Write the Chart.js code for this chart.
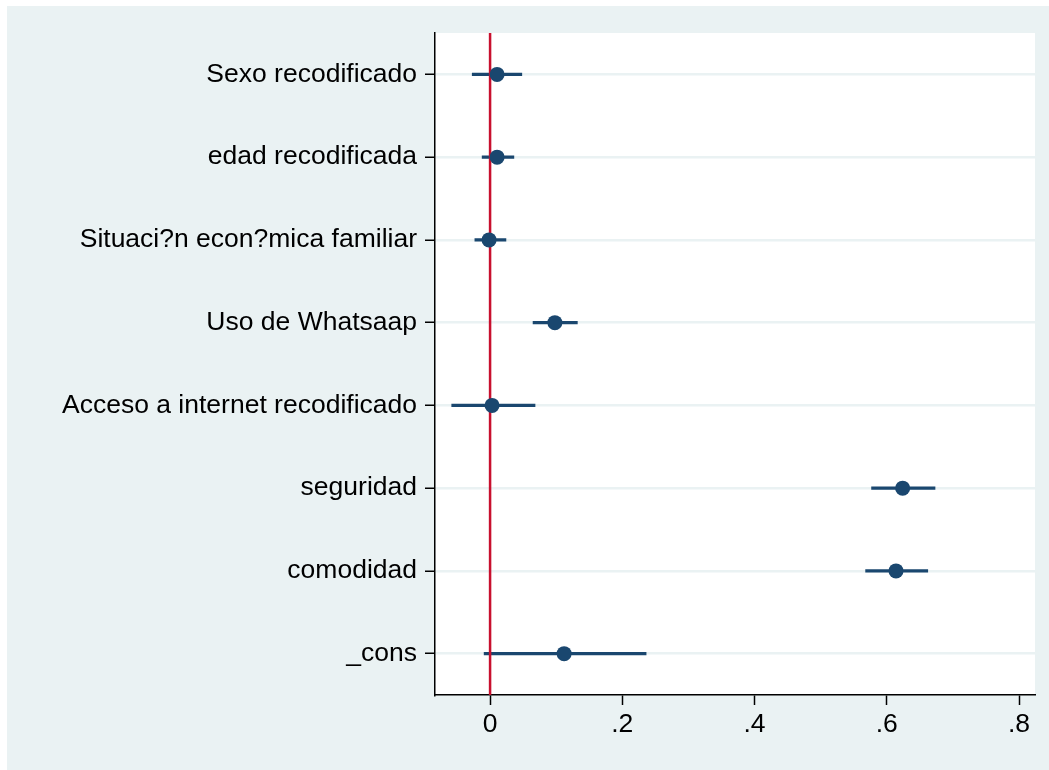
<!DOCTYPE html>
<html>
<head>
<meta charset="utf-8">
<script src="https://cdn.jsdelivr.net/npm/chart.js@4"></script>
<style>
  body { margin: 0; background: #ffffff; }
  #wrap { width: 1049px; height: 770px; }
</style>
</head>
<body>
<div id="wrap"><canvas id="myChart"></canvas></div>
<script>
// coefficients and 95% CI
const labels = [
    "Sexo recodificado",
    "edad recodificada",
    "Situaci?n econ?mica familiar",
    "Uso de Whatsaap",
    "Acceso a internet recodificado",
    "seguridad",
    "comodidad",
    "_cons"
];
const coef  = [0.0106, 0.0106, -0.0015, 0.098, 0.003, 0.624, 0.614, 0.112];
const lower = [-0.027, -0.012, -0.023, 0.065, -0.058, 0.577, 0.568, -0.009];
const upper = [0.048, 0.036, 0.024, 0.132, 0.068, 0.673, 0.662, 0.236];
const xTicks = [0, 0.2, 0.4, 0.6, 0.8];
const xTickLabels = ["0", ".2", ".4", ".6", ".8"];
const refLine = 0;

const navy = "#1a476f";
const gridBlue = "#eaf2f3";

// light blue graph region + white plot region
const background = {
    id: "background",
    beforeDraw(chart) {
        const ctx = chart.ctx;
        const a = chart.chartArea;
        ctx.save();
        ctx.fillStyle = gridBlue;
        ctx.fillRect(7, 6, chart.width - 7, chart.height - 6);
        ctx.fillStyle = "#ffffff";
        ctx.fillRect(a.left, a.top, a.right - a.left, a.bottom - a.top);
        ctx.restore();
    }
};

// red reference line at x = 0, drawn after the CI bars
const zeroLine = {
    id: "zeroLine",
    afterDatasetDraw(chart, args) {
        if (args.index !== 0) return;
        const ctx = chart.ctx;
        const a = chart.chartArea;
        const x = chart.scales.x.getPixelForValue(refLine);
        ctx.save();
        ctx.strokeStyle = "#c8102e";
        ctx.lineWidth = 2.5;
        ctx.beginPath();
        ctx.moveTo(x, a.top);
        ctx.lineTo(x, a.bottom);
        ctx.stroke();
        ctx.restore();
    }
};

Chart.defaults.font.family = "'Liberation Sans', Arial, sans-serif";
Chart.defaults.color = "#000000";

new Chart(document.getElementById("myChart"), {
    type: "bar",
    data: {
        labels: labels,
        datasets: [
            {
                label: "CI",
                indexAxis: "y",
                data: labels.map((l, i) => [lower[i], upper[i]]),
                backgroundColor: navy,
                barThickness: 2.5,
                order: 2
            },
            {
                label: "coef",
                type: "line",
                data: labels.map((l, i) => ({ x: coef[i], y: l })),
                showLine: false,
                pointRadius: 7.5,
                pointHoverRadius: 7.5,
                pointBackgroundColor: navy,
                pointBorderColor: navy,
                pointBorderWidth: 0,
                order: 1
            }
        ]
    },
    options: {
        animation: false,
        responsive: true,
        maintainAspectRatio: false,
        indexAxis: "y",
        layout: { padding: { top: 33, right: 14, left: 0, bottom: 0 } },
        plugins: {
            legend: { display: false },
            tooltip: { enabled: false }
        },
        scales: {
            x: {
                type: "linear",
                min: -0.0833,
                max: 0.8242,
                afterBuildTicks: s => { s.ticks = xTicks.map(v => ({ value: v })); },
                afterFit: s => { s.height = 75; },
                ticks: {
                    font: { size: 26.5 },
                    padding: 4,
                    maxRotation: 0,
                    callback: (v) => xTickLabels[xTicks.indexOf(v)]
                },
                grid: {
                    drawOnChartArea: false,
                    tickLength: 10,
                    tickColor: "#000000",
                    tickWidth: 1.5
                },
                border: { color: "#000000", width: 1.5 }
            },
            y: {
                type: "category",
                offset: true,
                afterFit: s => { s.width = 435; },
                ticks: {
                    font: { size: 26.5 },
                    padding: 8
                },
                grid: {
                    offset: false,
                    color: gridBlue,
                    lineWidth: 2.5,
                    tickLength: 10,
                    tickColor: "#000000",
                    tickWidth: 1.5
                },
                border: { color: "#000000", width: 1.5 }
            }
        }
    },
    plugins: [background, zeroLine]
});
</script>
</body>
</html>
